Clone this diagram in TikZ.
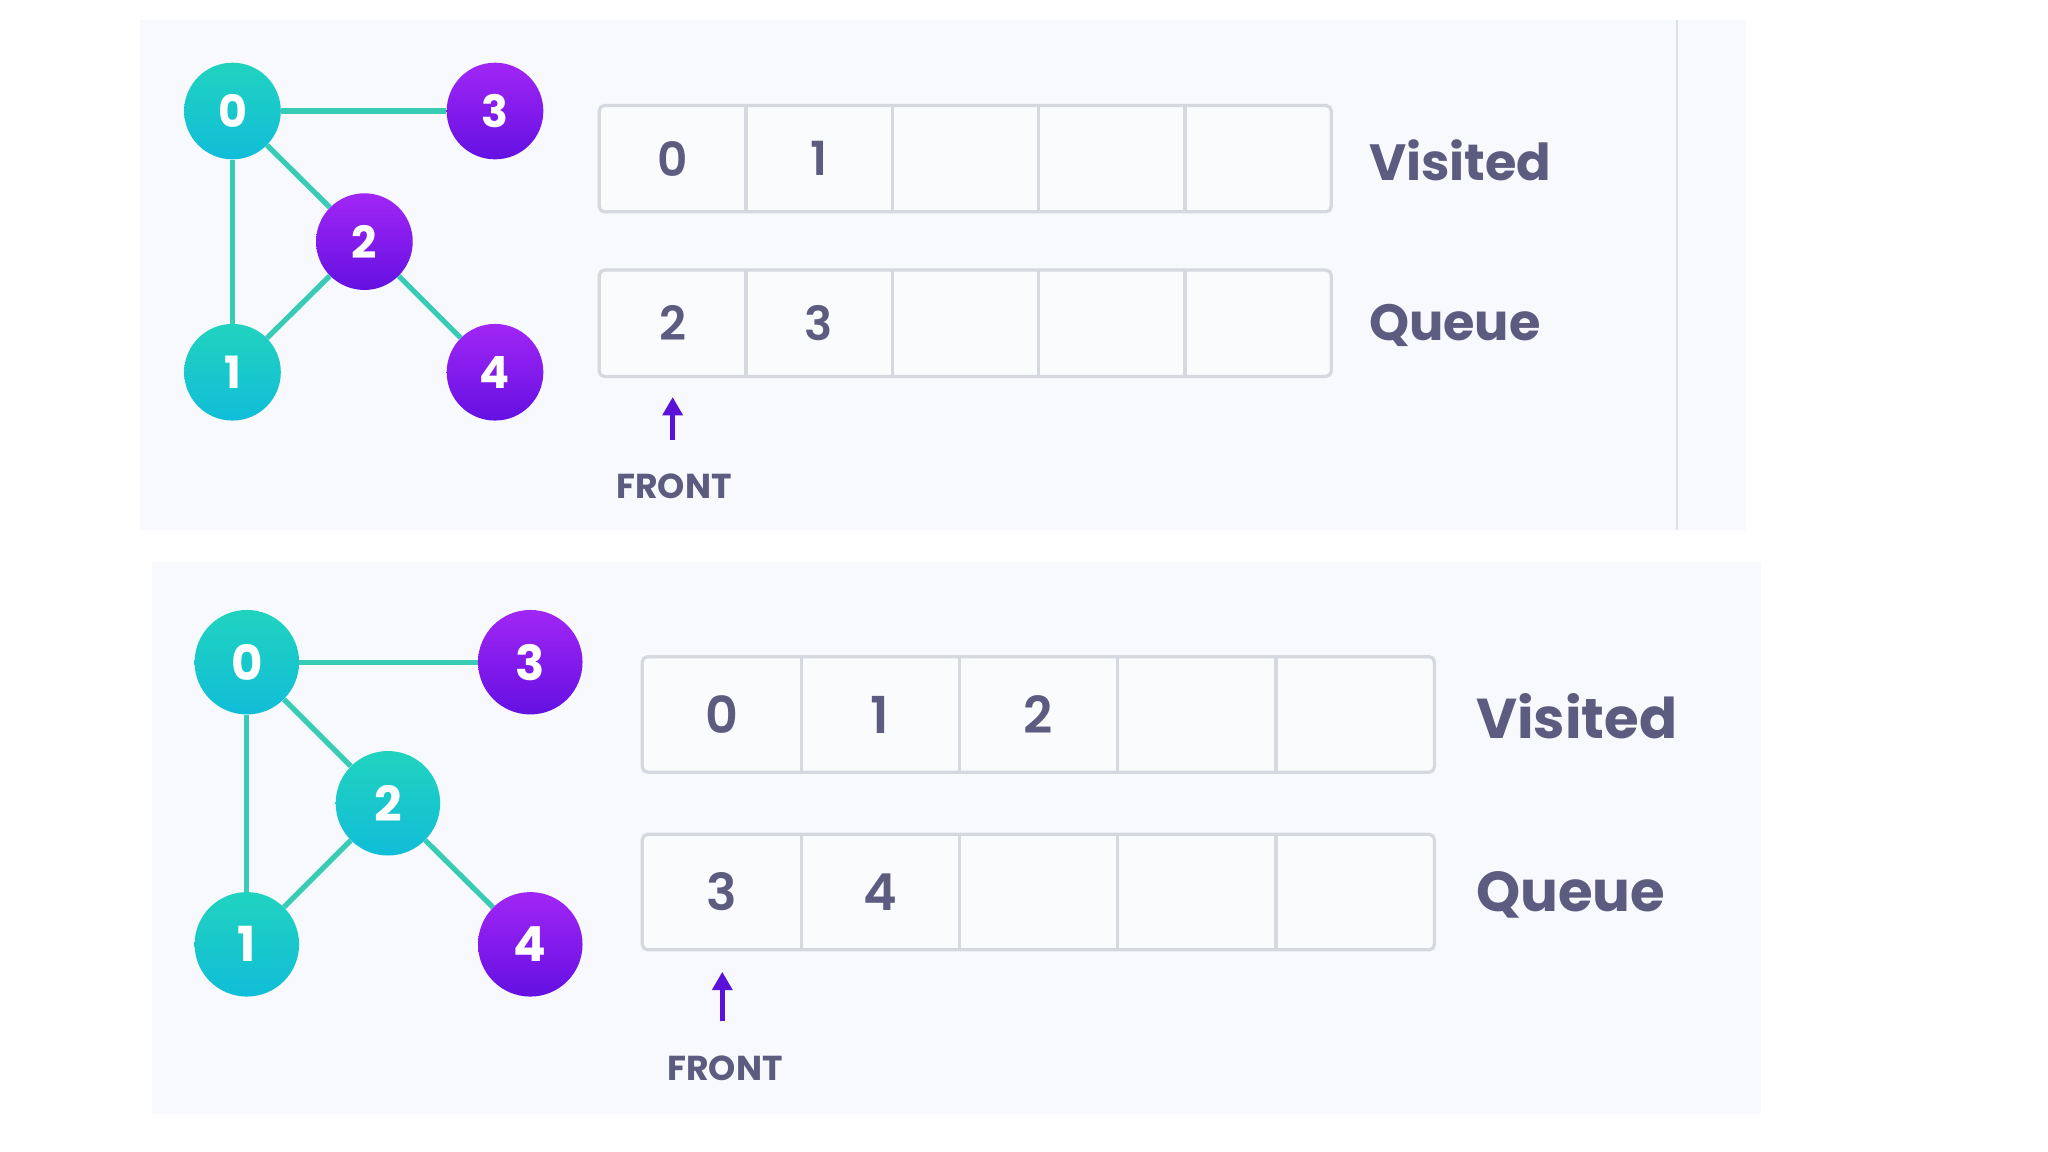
\documentclass[tikz,border=0pt]{standalone}
\usepackage{fontspec}
\setmainfont{Poppins}
\newfontfamily\psemi{Poppins SemiBold}
\newfontfamily\pbold{Poppins Bold}
\usetikzlibrary{arrows.meta}
\definecolor{panelbg}{HTML}{F7F9FC}
\definecolor{cellbg}{HTML}{F9FBFD}
\definecolor{cellline}{HTML}{D5D8DE}
\definecolor{txt}{HTML}{5C5C80}
\definecolor{tealtop}{HTML}{20D3BF}
\definecolor{tealbot}{HTML}{10BDD8}
\definecolor{purtop}{HTML}{A126F5}
\definecolor{purbot}{HTML}{6410E2}
\definecolor{edgec}{HTML}{38CBB5}
\definecolor{arrowc}{HTML}{5A12DA}
\definecolor{sepline}{HTML}{DCDFE4}
\tikzset{
  tealnode/.style={circle, inner sep=0pt, top color=tealtop, bottom color=tealbot, draw=none, text=white},
  purnode/.style={circle, inner sep=0pt, top color=purtop, bottom color=purbot, draw=none, text=white},
  gedge/.style={draw=edgec, line width=4pt},
  cell/.style={rectangle, inner sep=0pt, text=txt},
  rowbox/.style={draw=cellline, line width=2.5pt, rounded corners=4pt},
  divider/.style={draw=cellline, line width=2.5pt},
  rowlabel/.style={anchor=west, inner sep=0pt, text=txt, font=\pbold\fontsize{39}{39}\selectfont},
  frontlabel/.style={inner sep=0pt, text=txt, font=\pbold\fontsize{26.5}{26.5}\selectfont},
  frontarrow/.style={draw=arrowc, line width=3.5pt, -{Triangle[length=14pt,width=15pt]}},
}
\begin{document}
\begin{tikzpicture}[x=1pt,y=-1pt]
\useasboundingbox (0,0) rectangle (1568,882);
\fill[white] (0,0) rectangle (1568,882);
% ---------------- top panel
\fill[panelbg] (107,15) rectangle (1337,406);
\draw[sepline, line width=1.5pt] (1284,15) -- (1284,406);
\fill[cellbg, rounded corners=4pt] (459,81) rectangle (1019,162);
\fill[cellbg, rounded corners=4pt] (459,207) rectangle (1019,288);
\begin{scope}[every node/.append style={minimum size=74pt, font=\pbold\fontsize{34}{34}\selectfont}]
\node[tealnode] (a0) at (178,85) {0};
\node[purnode] (a3) at (379,85) {3};
\node[purnode] (a2) at (279,185) {2};
\node[tealnode] (a1) at (178,285) {1};
\node[purnode] (a4) at (379,285) {4};
\end{scope}
\draw[gedge] (a0) -- (a3);
\draw[gedge] (a0) -- (a1);
\draw[gedge] (a0) -- (a2);
\draw[gedge] (a2) -- (a1);
\draw[gedge] (a2) -- (a4);
\begin{scope}[every node/.append style={minimum width=112pt, minimum height=81pt, font=\psemi\fontsize{36}{36}\selectfont}]
\node[cell] (av1) at (515,121.5) {0};
\node[cell] (av2) at (627,121.5) {1};
\node[cell] (av3) at (739,121.5) {};
\node[cell] (av4) at (851,121.5) {};
\node[cell] (av5) at (963,121.5) {};
\node[cell] (aq1) at (515,247.5) {2};
\node[cell] (aq2) at (627,247.5) {3};
\node[cell] (aq3) at (739,247.5) {};
\node[cell] (aq4) at (851,247.5) {};
\node[cell] (aq5) at (963,247.5) {};
\end{scope}
\draw[rowbox] (av1.north west) rectangle (av5.south east);
\draw[rowbox] (aq1.north west) rectangle (aq5.south east);
\foreach \i in {1,2,3,4}{
  \draw[divider] (av\i.north east) -- (av\i.south east);
  \draw[divider] (aq\i.north east) -- (aq\i.south east);
}
\node[rowlabel] (avl) at (1048,123) {Visited};
\node[rowlabel] (aql) at (1048,249) {Queue};
\coordinate (afa) at (515,337);
\coordinate (afb) at (515,304);
\draw[frontarrow] (afa) -- (afb);
\node[frontlabel] (afront) at (516,372) {FRONT};
% ---------------- bottom panel
\fill[panelbg] (116,430) rectangle (1348,853);
\fill[cellbg, rounded corners=4pt] (492,503) rectangle (1098,591);
\fill[cellbg, rounded corners=4pt] (492,639) rectangle (1098,727);
\begin{scope}[every node/.append style={minimum size=80pt, font=\pbold\fontsize{37}{37}\selectfont}]
\node[tealnode] (b0) at (189,507) {0};
\node[purnode] (b3) at (406,507) {3};
\node[tealnode] (b2) at (297,615) {2};
\node[tealnode] (b1) at (189,723) {1};
\node[purnode] (b4) at (406,723) {4};
\end{scope}
\draw[gedge] (b0) -- (b3);
\draw[gedge] (b0) -- (b1);
\draw[gedge] (b0) -- (b2);
\draw[gedge] (b2) -- (b1);
\draw[gedge] (b2) -- (b4);
\begin{scope}[every node/.append style={minimum width=121.2pt, minimum height=88pt, font=\psemi\fontsize{39}{39}\selectfont}]
\node[cell] (bv1) at (552.6,547) {0};
\node[cell] (bv2) at (673.8,547) {1};
\node[cell] (bv3) at (795,547) {2};
\node[cell] (bv4) at (916.2,547) {};
\node[cell] (bv5) at (1037.4,547) {};
\node[cell] (bq1) at (552.6,683) {3};
\node[cell] (bq2) at (673.8,683) {4};
\node[cell] (bq3) at (795,683) {};
\node[cell] (bq4) at (916.2,683) {};
\node[cell] (bq5) at (1037.4,683) {};
\end{scope}
\draw[rowbox] (bv1.north west) rectangle (bv5.south east);
\draw[rowbox] (bq1.north west) rectangle (bq5.south east);
\foreach \i in {1,2,3,4}{
  \draw[divider] (bv\i.north east) -- (bv\i.south east);
  \draw[divider] (bq\i.north east) -- (bq\i.south east);
}
\node[rowlabel, font=\pbold\fontsize{43}{43}\selectfont] (bvl) at (1130,548) {Visited};
\node[rowlabel, font=\pbold\fontsize{43}{43}\selectfont] (bql) at (1130,685) {Queue};
\coordinate (bfa) at (553,782);
\coordinate (bfb) at (553,744);
\draw[frontarrow] (bfa) -- (bfb);
\node[frontlabel] (bfront) at (555,818) {FRONT};
\end{tikzpicture}
\end{document}
